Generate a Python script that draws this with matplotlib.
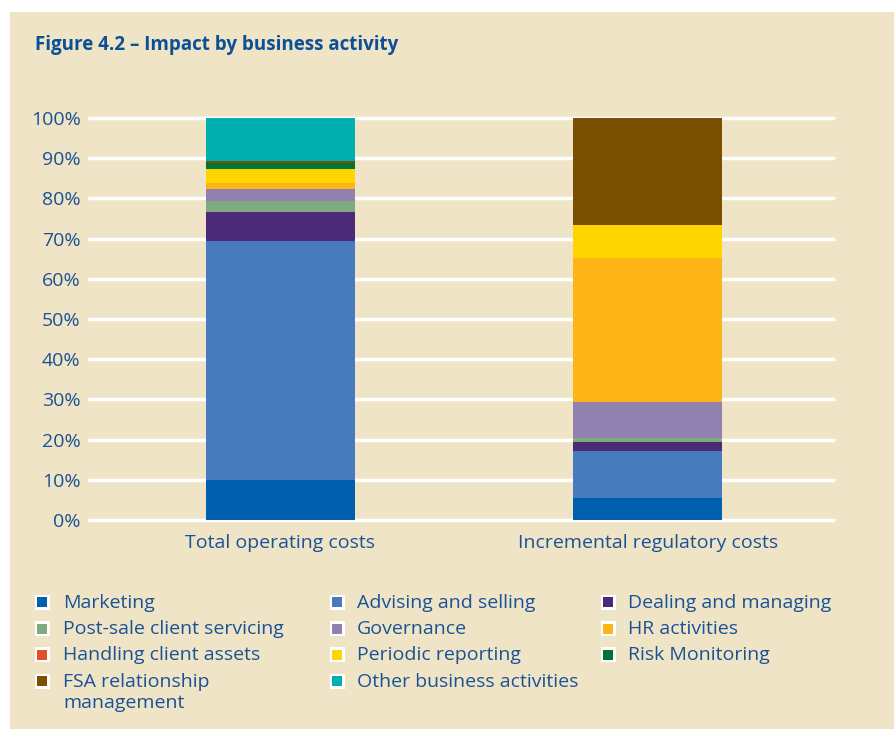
import matplotlib
matplotlib.use("Agg")
import matplotlib.pyplot as plt
from matplotlib.patches import Rectangle

plt.rcParams['font.family'] = ['Open Sans', 'DejaVu Sans']

categories = ["Total operating costs", "Incremental regulatory costs"]
activities = ["Marketing", "Advising and selling", "Dealing and managing",
              "Post-sale client servicing", "Governance", "HR activities",
              "Handling client assets", "Periodic reporting", "Risk Monitoring",
              "FSA relationship\nmanagement", "Other business activities"]
total_operating = [10.0, 59.4, 7.2, 2.8, 2.9, 1.5, 0.0, 3.5, 1.5, 0.5, 10.7]
incremental_regulatory = [5.5, 11.7, 2.2, 1.0, 9.0, 35.8, 0.0, 8.2, 0.0, 26.6, 0.0]
colors = ["#0060ae", "#487bbe", "#4b2a78", "#7faa7f", "#9181b0", "#fdb515",
          "#e0512a", "#ffd500", "#007432", "#7a5000", "#00b0af"]
yticks = [0, 10, 20, 30, 40, 50, 60, 70, 80, 90, 100]
ytick_labels = [f"{v}%" for v in yticks]

BG = "#f0e4c7"
TXT = "#1a5296"
TITLE = "#0b4f96"

W, H = 894, 729
fig = plt.figure(figsize=(W / 100, H / 100), dpi=100)
fig.patch.set_facecolor("white")
fig.patches.append(Rectangle((10 / W, 0), 1 - 10 / W, 1 - 12 / H,
                             transform=fig.transFigure, facecolor=BG,
                             edgecolor="none", zorder=-10))

fig.text(35 / W, 1 - 45 / H, "Figure 4.2 – Impact by business activity",
         color=TITLE, fontsize=13.5, fontweight="bold", va="center", ha="left")

ax = fig.add_axes([89 / W, 1 - 520 / H, (833 - 89) / W, (520 - 118) / H])
ax.set_facecolor("none")
for s in ax.spines.values():
    s.set_visible(False)

x = [0, 1]
bottoms = [0.0, 0.0]
for i, name in enumerate(activities):
    vals = [total_operating[i], incremental_regulatory[i]]
    ax.bar(x, vals, bottom=bottoms, width=0.405, color=colors[i],
           edgecolor="none", zorder=3)
    bottoms = [bottoms[j] + vals[j] for j in range(2)]

ax.set_xlim(-0.52, 1.504)
ax.set_ylim(0, 100)
ax.set_yticks(yticks)
ax.set_yticklabels(ytick_labels)
ax.yaxis.grid(True, color="white", linewidth=2.5, zorder=0)
for gl in ax.get_ygridlines():
    gl.set_clip_on(False)
ax.set_axisbelow(True)
ax.tick_params(axis="y", length=0, pad=6, labelsize=14, labelcolor=TXT)
ax.set_xticks(x)
ax.set_xticklabels(categories)
ax.tick_params(axis="x", length=0, pad=10, labelsize=14, labelcolor=TXT)

# legend (row-wise, three columns)
col_marker_x = [42, 337, 608]
col_text_x = [63, 357, 628]
row_y = [602, 628.5, 654.5, 681]
for i, name in enumerate(activities):
    r, c = divmod(i, 3)
    mx, my = col_marker_x[c], row_y[r]
    outer = 15
    fig.patches.append(Rectangle(((mx - outer / 2) / W, 1 - (my + outer / 2) / H),
                                 outer / W, outer / H, transform=fig.transFigure,
                                 facecolor="white", edgecolor="none", zorder=5))
    inner = 10
    fig.patches.append(Rectangle(((mx - inner / 2) / W, 1 - (my + inner / 2) / H),
                                 inner / W, inner / H, transform=fig.transFigure,
                                 facecolor=colors[i], edgecolor="none", zorder=6))
    if "\n" in name:
        fig.text(col_text_x[c] / W, 1 - (my + 11.5) / H, name, color=TXT,
                 fontsize=14, ha="left", va="center", linespacing=1.2)
    else:
        fig.text(col_text_x[c] / W, 1 - (my + 1) / H, name, color=TXT,
                 fontsize=14, ha="left", va="center")

fig.savefig("out.png", dpi=100, facecolor=fig.get_facecolor())
